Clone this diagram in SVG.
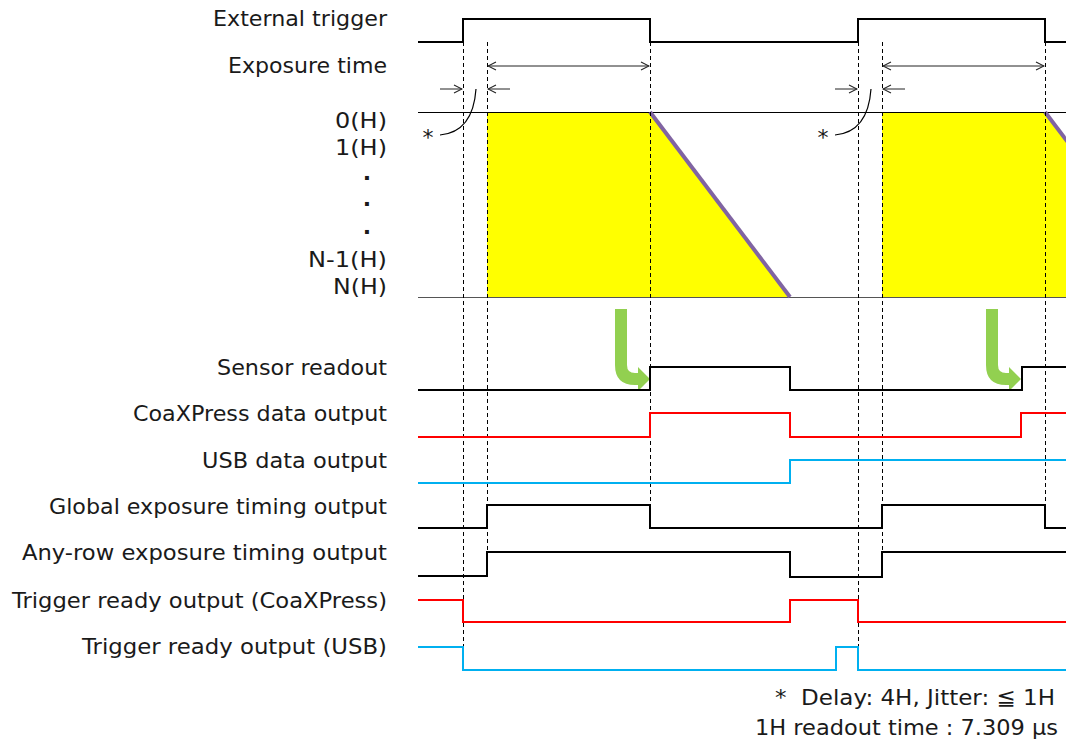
<svg xmlns="http://www.w3.org/2000/svg" width="1066" height="745" viewBox="0 0 1066 745">
<defs>
<style>
text{font-family:"DejaVu Sans","Noto Sans CJK JP",sans-serif;font-size:22px;fill:#1a1a1a}
.lbl{text-anchor:end}
.sig{fill:none;stroke-width:2;stroke-linejoin:miter}
.blk{stroke:#000}
.red{stroke:#ff0000}
.blu{stroke:#00b0f0}
.dash{stroke:#000;stroke-width:1;stroke-dasharray:4 3;fill:none}
.dim{stroke:#222;stroke-width:1;fill:none}
.grn{fill:#92d050}
</style>
<marker id="ah" viewBox="0 0 10 10" refX="9" refY="5" markerWidth="10" markerHeight="10" markerUnits="userSpaceOnUse" orient="auto-start-reverse">
<path d="M1,1 L9,5 L1,9" fill="none" stroke="#222" stroke-width="1.1"/>
</marker>
</defs>
<rect width="1066" height="745" fill="#fff"/>

<g id="labels">
<text class="lbl" x="387" y="26" textLength="174" lengthAdjust="spacingAndGlyphs">External trigger</text>
<text class="lbl" x="387" y="73" textLength="159" lengthAdjust="spacingAndGlyphs">Exposure time</text>
<text class="lbl" x="387" y="128" textLength="52" lengthAdjust="spacingAndGlyphs">0(H)</text>
<text class="lbl" x="387" y="155" textLength="52" lengthAdjust="spacingAndGlyphs">1(H)</text>
<text x="367" y="180" text-anchor="middle" font-weight="bold">.</text>
<text x="367" y="206" text-anchor="middle" font-weight="bold">.</text>
<text x="367" y="234" text-anchor="middle" font-weight="bold">.</text>
<text class="lbl" x="387" y="267" textLength="79" lengthAdjust="spacingAndGlyphs">N-1(H)</text>
<text class="lbl" x="387" y="294" textLength="54" lengthAdjust="spacingAndGlyphs">N(H)</text>
<text class="lbl" x="387" y="375" textLength="170" lengthAdjust="spacingAndGlyphs">Sensor readout</text>
<text class="lbl" x="387" y="421" textLength="254" lengthAdjust="spacingAndGlyphs">CoaXPress data output</text>
<text class="lbl" x="387" y="468" textLength="185" lengthAdjust="spacingAndGlyphs">USB data output</text>
<text class="lbl" x="387" y="514" textLength="338" lengthAdjust="spacingAndGlyphs">Global exposure timing output</text>
<text class="lbl" x="387" y="560" textLength="365" lengthAdjust="spacingAndGlyphs">Any-row exposure timing output</text>
<text class="lbl" x="387" y="608" textLength="375" lengthAdjust="spacingAndGlyphs">Trigger ready output (CoaXPress)</text>
<text class="lbl" x="387" y="654" textLength="305" lengthAdjust="spacingAndGlyphs">Trigger ready output (USB)</text>
</g>

<g id="exposure-area">
<polygon points="487,112 650,112 790,297 487,297" fill="#ffff00"/>
<polygon points="882,112 1045,112 1185,297 882,297" fill="#ffff00"/>
<line x1="418" y1="112.5" x2="1066" y2="112.5" stroke="#000" stroke-width="1"/>
<line x1="418" y1="297.5" x2="1066" y2="297.5" stroke="#555" stroke-width="1.2"/>
<line x1="650" y1="112" x2="790" y2="297" stroke="#8064a2" stroke-width="4"/>
<line x1="1045" y1="112" x2="1185" y2="297" stroke="#8064a2" stroke-width="4"/>
</g>

<g id="connectors">
<line class="dash" x1="463.5" y1="42" x2="463.5" y2="648"/>
<line class="dash" x1="487.5" y1="42" x2="487.5" y2="576"/>
<line class="dash" x1="650.5" y1="42" x2="650.5" y2="528"/>
<line class="dash" x1="858.5" y1="42" x2="858.5" y2="670"/>
<line class="dash" x1="882.5" y1="42" x2="882.5" y2="576"/>
<line class="dash" x1="1045.5" y1="42" x2="1045.5" y2="528"/>
<line class="dim" x1="488" y1="66" x2="649" y2="66" marker-start="url(#ah)" marker-end="url(#ah)"/>
<line class="dim" x1="883" y1="66" x2="1044" y2="66" marker-start="url(#ah)" marker-end="url(#ah)"/>
<line class="dim" x1="440" y1="89" x2="462" y2="89" marker-end="url(#ah)"/>
<line class="dim" x1="510" y1="89" x2="488" y2="89" marker-end="url(#ah)"/>
<line class="dim" x1="835" y1="89" x2="857" y2="89" marker-end="url(#ah)"/>
<line class="dim" x1="905" y1="89" x2="883" y2="89" marker-end="url(#ah)"/>
<path d="M476,89 Q473,132 440,135" fill="none" stroke="#000" stroke-width="1.2"/>
<path d="M871,89 Q868,132 835,135" fill="none" stroke="#000" stroke-width="1.2"/>
<text x="428" y="145" text-anchor="middle">*</text>
<text x="823" y="145" text-anchor="middle">*</text>
<path class="grn" d="M615,309 H627 V365 Q627,373 635,373 H638 V367 L650,379 L638,391 V385 H635 Q615,385 615,365 Z"/>
<path class="grn" d="M986,309 H998 V365 Q998,373 1006,373 H1009 V367 L1021,379 L1009,391 V385 H1006 Q986,385 986,365 Z"/>
</g>

<g id="external-trigger"><polyline class="sig blk" points="418,42 463,42 463,19 650,19 650,42 858,42 858,19 1045,19 1045,42 1066,42"/></g>
<g id="sensor-readout"><polyline class="sig blk" points="418,390 650,390 650,367 790,367 790,390 1022,390 1022,367 1066,367"/></g>
<g id="coaxpress-data"><polyline class="sig red" points="418,437 650,437 650,413 790,413 790,437 1021,437 1021,413 1066,413"/></g>
<g id="usb-data"><polyline class="sig blu" points="418,483 790,483 790,460 1066,460"/></g>
<g id="global-exposure"><polyline class="sig blk" points="418,528 487,528 487,505 650,505 650,528 882,528 882,505 1045,505 1045,528 1066,528"/></g>
<g id="anyrow-exposure"><polyline class="sig blk" points="418,576 487,576 487,552 790,552 790,577 882,577 882,552 1066,552"/></g>
<g id="trigger-ready-cxp"><polyline class="sig red" points="418,600 463,600 463,622 790,622 790,600 858,600 858,622 1066,622"/></g>
<g id="trigger-ready-usb"><polyline class="sig blu" points="418,647 463,647 463,670 836,670 836,647 858,647 858,670 1066,670"/></g>

<g id="notes">
<text class="lbl" x="1055" y="705" textLength="280" lengthAdjust="spacingAndGlyphs">*&#160; Delay: 4H, Jitter: ≦ 1H</text>
<text class="lbl" x="1058" y="735" textLength="303" lengthAdjust="spacingAndGlyphs">1H readout time : 7.309 μs</text>
</g>
</svg>
